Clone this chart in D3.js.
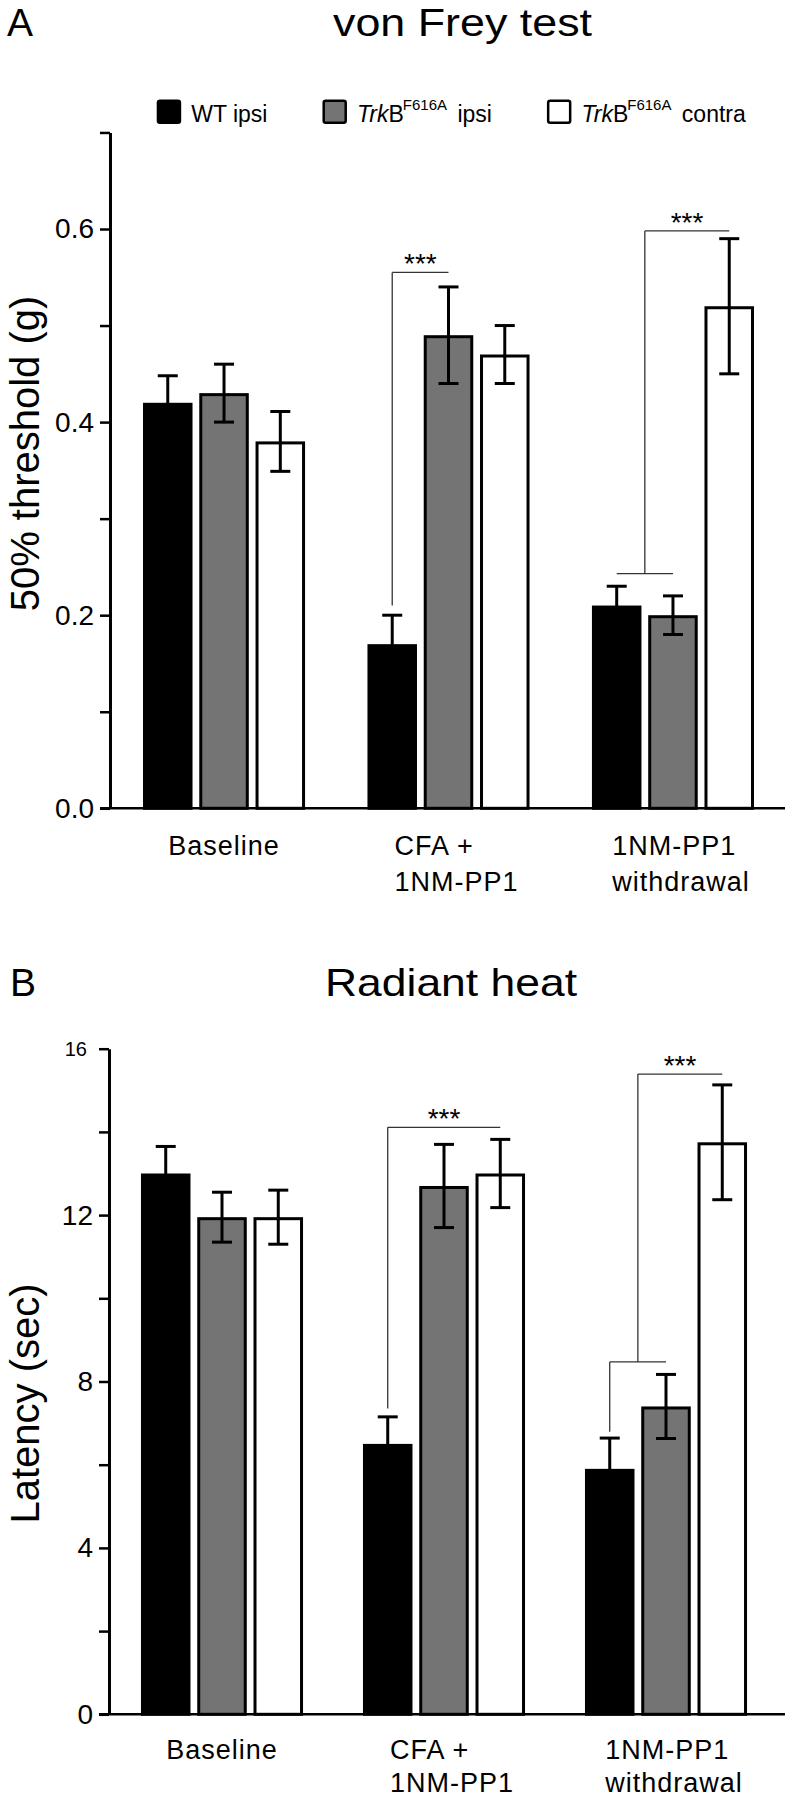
<!DOCTYPE html>
<html><head><meta charset="utf-8">
<script src="https://cdn.jsdelivr.net/npm/d3@7"></script>
<style>
body{margin:0;background:#fff}
svg{display:block}
text{font-family:"Liberation Sans",Arial,Helvetica,sans-serif;fill:#000}
</style>
</head><body>
<svg id="c" width="787" height="1800"></svg>
<script>
// ---------------- data ----------------
const categories = ["Baseline", "CFA +\n1NM-PP1", "1NM-PP1\nwithdrawal"];
const series = ["WT ipsi", "TrkB|F616A| ipsi", "TrkB|F616A| contra"];

// von Frey test: 50% threshold (g)
const vonFreyMean = [[0.42, 0.43, 0.38], [0.17, 0.49, 0.47], [0.21, 0.20, 0.52]];
const vonFreySem  = [[0.028, 0.03, 0.031], [0.03, 0.05, 0.03], [0.02, 0.02, 0.07]];
const vonFreyTicks = [0, 0.1, 0.2, 0.3, 0.4, 0.5, 0.6, 0.7];
const vonFreyTickLabels = ["0.0", "", "0.2", "", "0.4", "", "0.6", ""];

// Radiant heat: latency (sec)
const heatMean = [[13.0, 11.95, 11.95], [6.5, 12.7, 13.0], [5.9, 7.4, 13.75]];
const heatSem  = [[0.65, 0.6, 0.65], [0.65, 1.0, 0.82], [0.74, 0.77, 1.38]];
const heatTicks = [0, 2, 4, 6, 8, 10, 12, 14, 16];
const heatTickLabels = ["0", "", "4", "", "8", "", "12", "", "16"];

// significance brackets (series indices, levels in data units)
const vonFreySig = [
  {cat: 1, from: 0, to: 1, level: 0.555, leg: 0.21},
  {cat: 2, lowFrom: 0, lowTo: 1, low: 0.243, to: 2, level: 0.598}
];
const heatSig = [
  {cat: 1, from: 0, to: 2, level: 14.11, leg: 7.35},
  {cat: 2, lowFrom: 0, lowTo: 1, low: 8.47, lowLeg: 6.79, to: 2, level: 15.39}
];

// ---------------- drawing ----------------
const fills = ["#000000", "#747474", "#ffffff"];
const FONT = '"Liberation Sans",Arial,Helvetica,sans-serif';
const svg = d3.select("#c");
svg.append("rect").attr("width", 787).attr("height", 1800).attr("fill", "#fff");

function panel(o) {
  const y = d3.scaleLinear().domain([0, o.ticks[o.ticks.length - 1]]).range([o.y0, o.yTop]);
  const x = d3.scaleBand().domain(categories).range([o.xAxis, o.xEnd])
    .paddingInner(o.pi).paddingOuter(o.po);
  const xs = d3.scaleBand().domain(d3.range(series.length)).range([0, x.bandwidth()])
    .paddingInner(0.12).paddingOuter(0);
  const cx = (ci, si) => x(categories[ci]) + xs(si) + xs.bandwidth() / 2;
  const g = svg.append("g");

  const rows = categories.flatMap((c, ci) => series.map((s, si) =>
    ({c, ci, si, m: o.mean[ci][si], e: o.sem[ci][si]})));

  // bars
  g.selectAll("rect.bar").data(rows).join("rect").attr("class", "bar")
    .attr("x", d => x(d.c) + xs(d.si) + 1.5)
    .attr("width", xs.bandwidth() - 3)
    .attr("y", d => y(d.m) + 1.5)
    .attr("height", d => y(0) - y(d.m) - 1.5)
    .attr("fill", d => fills[d.si])
    .attr("stroke", "#000").attr("stroke-width", 3);

  // error bars
  const eb = g.selectAll("g.eb").data(rows).join("g").attr("class", "eb")
    .attr("stroke", "#000").attr("stroke-width", 3);
  eb.append("line")
    .attr("x1", d => cx(d.ci, d.si)).attr("x2", d => cx(d.ci, d.si))
    .attr("y1", d => y(d.m - d.e)).attr("y2", d => y(d.m + d.e));
  eb.append("line")
    .attr("x1", d => cx(d.ci, d.si) - 10).attr("x2", d => cx(d.ci, d.si) + 10)
    .attr("y1", d => y(d.m + d.e)).attr("y2", d => y(d.m + d.e));
  eb.append("line")
    .attr("x1", d => cx(d.ci, d.si) - 10).attr("x2", d => cx(d.ci, d.si) + 10)
    .attr("y1", d => y(d.m - d.e)).attr("y2", d => y(d.m - d.e));

  // y axis
  const labelMap = new Map(o.ticks.map((t, i) => [t, o.labels[i]]));
  const ax = d3.axisLeft(y).tickValues(o.ticks).tickSize(10).tickSizeOuter(0)
    .tickPadding(6).tickFormat(d => labelMap.get(d));
  const ag = g.append("g").attr("transform", `translate(${o.xAxis},0)`).call(ax);
  ag.select(".domain").attr("stroke", "#000").attr("stroke-width", 3);
  ag.selectAll(".tick line").attr("stroke", "#000").attr("stroke-width", 2.5);
  ag.selectAll(".tick text").attr("font-size", 28).attr("font-family", FONT).attr("fill", "#000");
  if (o.smallTop) {
    ag.selectAll(".tick text").filter(d => d === o.ticks[o.ticks.length - 1])
      .attr("font-size", 20).attr("dx", -6);
  }

  // x baseline
  g.append("line").attr("x1", o.xAxis - 10).attr("x2", 785)
    .attr("y1", y(0)).attr("y2", y(0)).attr("stroke", "#000").attr("stroke-width", 2.5);

  // category labels
  categories.forEach((c, ci) => {
    const lines = c.split("\n");
    const center = x(c) + x.bandwidth() / 2;
    const t = g.append("text").attr("font-size", 27).attr("letter-spacing", 1);
    lines.forEach((ln, li) => {
      t.append("tspan").attr("y", y(0) + o.catOff + li * o.catGap).text(ln);
    });
    if (lines.length === 1) {
      t.attr("text-anchor", "middle").selectAll("tspan").attr("x", center);
    } else {
      let w = 0;
      t.selectAll("tspan").each(function () { w = Math.max(w, this.getComputedTextLength()); });
      t.selectAll("tspan").attr("x", center - w / 2 + 8);
    }
  });

  // y label
  g.append("text").attr("transform", `translate(${o.ylx},${o.yly}) rotate(-90)`)
    .attr("text-anchor", "middle").attr("font-size", 40).text(o.ylabel);

  // title and panel letter
  g.append("text").attr("x", o.letterX).attr("y", o.titleY).attr("font-size", 39).text(o.letter);
  g.append("text").attr("x", o.titleX).attr("y", o.titleY).attr("text-anchor", "middle")
    .attr("font-size", 39).attr("textLength", o.titleW).attr("lengthAdjust", "spacingAndGlyphs")
    .text(o.title);

  // significance brackets
  const sg = g.append("g").attr("stroke", "#333").attr("stroke-width", 1.3).attr("fill", "none");
  o.sig.forEach(s => {
    let xl, xr;
    if (s.low !== undefined) {
      const a = cx(s.cat, s.lowFrom), b = cx(s.cat, s.lowTo);
      sg.append("line").attr("x1", a).attr("x2", b).attr("y1", y(s.low)).attr("y2", y(s.low));
      if (s.lowLeg !== undefined)
        sg.append("line").attr("x1", a).attr("x2", a).attr("y1", y(s.low)).attr("y2", y(s.lowLeg));
      xl = (a + b) / 2; xr = cx(s.cat, s.to);
      sg.append("line").attr("x1", xl).attr("x2", xl).attr("y1", y(s.low)).attr("y2", y(s.level));
    } else {
      xl = cx(s.cat, s.from); xr = cx(s.cat, s.to);
      sg.append("line").attr("x1", xl).attr("x2", xl).attr("y1", y(s.level)).attr("y2", y(s.leg));
    }
    sg.append("line").attr("x1", xl).attr("x2", xr).attr("y1", y(s.level)).attr("y2", y(s.level));
    g.append("text").attr("x", (xl + xr) / 2).attr("y", y(s.level) + 1)
      .attr("text-anchor", "middle").attr("font-size", 28).text("***");
  });
}

panel({
  mean: vonFreyMean, sem: vonFreySem, ticks: vonFreyTicks, labels: vonFreyTickLabels,
  y0: 808.3, yTop: 808.3 - 0.7 * 965.5, xAxis: 110, xEnd: 787, pi: 0.278, po: 0.147,
  catOff: 47, catGap: 36,
  sig: vonFreySig, ylabel: "50% threshold (g)", ylx: 39, yly: 453.5,
  letter: "A", letterX: 7, title: "von Frey test", titleX: 462.5, titleY: 36, titleW: 259
});
panel({
  mean: heatMean, sem: heatSem, ticks: heatTicks, labels: heatTickLabels, smallTop: true,
  y0: 1714.3, yTop: 1714.3 - 16 * 41.6, xAxis: 109, xEnd: 779, pi: 0.27, po: 0.144,
  catOff: 45, catGap: 33,
  sig: heatSig, ylabel: "Latency (sec)", ylx: 39, yly: 1403.5,
  letter: "B", letterX: 10, title: "Radiant heat", titleX: 451, titleY: 996, titleW: 252
});

// legend
(function legend() {
  const lg = svg.append("g");
  let lx = 156.7;
  const ly = 99.5, size = 24.5, base = 121.7;
  series.forEach((s, i) => {
    lg.append("rect").attr("x", lx + 1.25).attr("y", ly + 1.25)
      .attr("width", size - 2.5).attr("height", size - 2.5).attr("rx", 2)
      .attr("fill", fills[i]).attr("stroke", "#000").attr("stroke-width", 2.5);
    const t = lg.append("text").attr("x", lx + size + 10).attr("y", base).attr("font-size", 23);
    const parts = s.split("|");
    if (parts.length === 1) {
      t.text(s);
    } else {
      t.append("tspan").attr("font-style", "italic").text(parts[0].slice(0, 3));
      t.append("tspan").text(parts[0].slice(3));
      t.append("tspan").attr("font-size", 15).attr("dy", -11.7).attr("dx", -1).text(parts[1]);
      t.append("tspan").attr("dy", 11.7).attr("dx", 4).text(parts[2]);
    }
    const bb = t.node().getBBox();
    lx = bb.x + bb.width + 55;
  });
})();
</script>
</body></html>
